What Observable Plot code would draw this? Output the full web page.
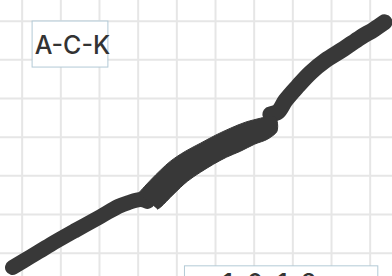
<!DOCTYPE html>
<html>
<head>
<meta charset="utf-8">
<script src="https://cdn.jsdelivr.net/npm/d3@7"></script>
<script src="https://cdn.jsdelivr.net/npm/@observablehq/plot@0.6"></script>
<style>
  html, body { margin: 0; padding: 0; background: #fff; overflow: hidden; }
  #chart svg { display: block; }
</style>
</head>
<body>
<div id="chart"></div>
<script>
// grid ticks
const xTicks = [0, 1, 2, 3, 4, 5, 6, 7, 8, 9];
const yTicks = [0, 1, 2, 3, 4, 5, 6];

// lower thin stroke (centre line)
const lowerX = [-0.25, 0.22, 0.73, 1.38, 2.03, 2.49, 2.75, 3.06, 3.24];
const lowerY = [-0.37, -0.09, 0.22, 0.59, 0.95, 1.21, 1.31, 1.39, 1.34];

// thick middle stroke (outline: upper edge left→right, then lower edge right→left)
const bodyX = [3.008, 3.319, 3.577, 3.836, 4.224, 4.612, 5.000, 5.388, 5.776, 6.163, 6.370,
               6.551, 6.603, 6.603, 6.577, 6.344, 6.008, 5.646, 5.284, 4.948, 4.612, 4.276, 3.914, 3.577, 3.500];
const bodyY = [1.551, 1.888, 2.146, 2.379, 2.637, 2.844, 3.051, 3.232, 3.388, 3.491, 3.543,
               3.517, 3.362, 3.207, 3.129, 2.948, 2.818, 2.637, 2.482, 2.301, 2.094, 1.862, 1.526, 1.189, 1.138];

// upper thin stroke (centre line)
const upperX = [6.42, 6.62, 6.81, 7.12, 7.46, 7.84, 8.31, 8.75, 9.09, 9.37];
const upperY = [3.59, 3.66, 3.95, 4.31, 4.67, 4.98, 5.28, 5.58, 5.78, 5.97];

// labels
const labelTexts = ["A-C-K", "1-0-1-2"];
const labelX = [1.30, 5.18];
const labelY = [5.145, -1.0];
const boxX1 = [0.27, 4.21];
const boxX2 = [2.23, 9.21];
const boxY1 = [4.80, -1.6];
const boxY2 = [5.99, -0.34];

const toPts = (xs, ys) => xs.map((x, i) => ({x, y: ys[i]}));
const lower = toPts(lowerX, lowerY);
const body = toPts(bodyX, bodyY);
const upper = toPts(upperX, upperY);
const boxes = boxX1.map((x1, i) => ({x1, x2: boxX2[i], y1: boxY1[i], y2: boxY2[i]}));
const labels = labelTexts.map((t, i) => ({t, x: labelX[i], y: labelY[i]}));

const ink = "#383838";
const lineOpts = {x: "x", y: "y", stroke: ink, curve: "catmull-rom", strokeLinejoin: "round"};
const textOpts = {x: "x", y: "y", text: "t", lineAnchor: "bottom", fontSize: 25, fontFamily: "Inter", fontWeight: 500, fill: "#333"};

const chart = Plot.plot({
  width: 392,
  height: 276,
  marginTop: 0, marginRight: 0, marginBottom: 0, marginLeft: 0,
  x: {domain: [-0.56, 9.577], axis: null},
  y: {domain: [-0.603, 6.534], axis: null},
  style: {background: "#fff"},
  marks: [
    Plot.gridX(xTicks, {stroke: "#e6e6e6", strokeOpacity: 1, strokeWidth: 2}),
    Plot.gridY(yTicks, {stroke: "#e6e6e6", strokeOpacity: 1, strokeWidth: 2}),
    Plot.line(lower, {...lineOpts, strokeWidth: 15, strokeLinecap: "round"}),
    Plot.line(upper, {...lineOpts, strokeWidth: 16, strokeLinecap: "round"}),
    Plot.line(body, {...lineOpts, fill: ink, strokeWidth: 1}),
    Plot.rect(boxes, {x1: "x1", x2: "x2", y1: "y1", y2: "y2", fill: "#fff", stroke: "#b3cad6", strokeWidth: 1}),
    Plot.text(labels.slice(0, 1), {...textOpts, textAnchor: "middle"}),
    Plot.text(labels.slice(1), {...textOpts, textAnchor: "start", className: "code-label"})
  ]
});
d3.select(chart).selectAll(".code-label text").style("letter-spacing", "1.3px");
document.getElementById("chart").appendChild(chart);
</script>
</body>
</html>
